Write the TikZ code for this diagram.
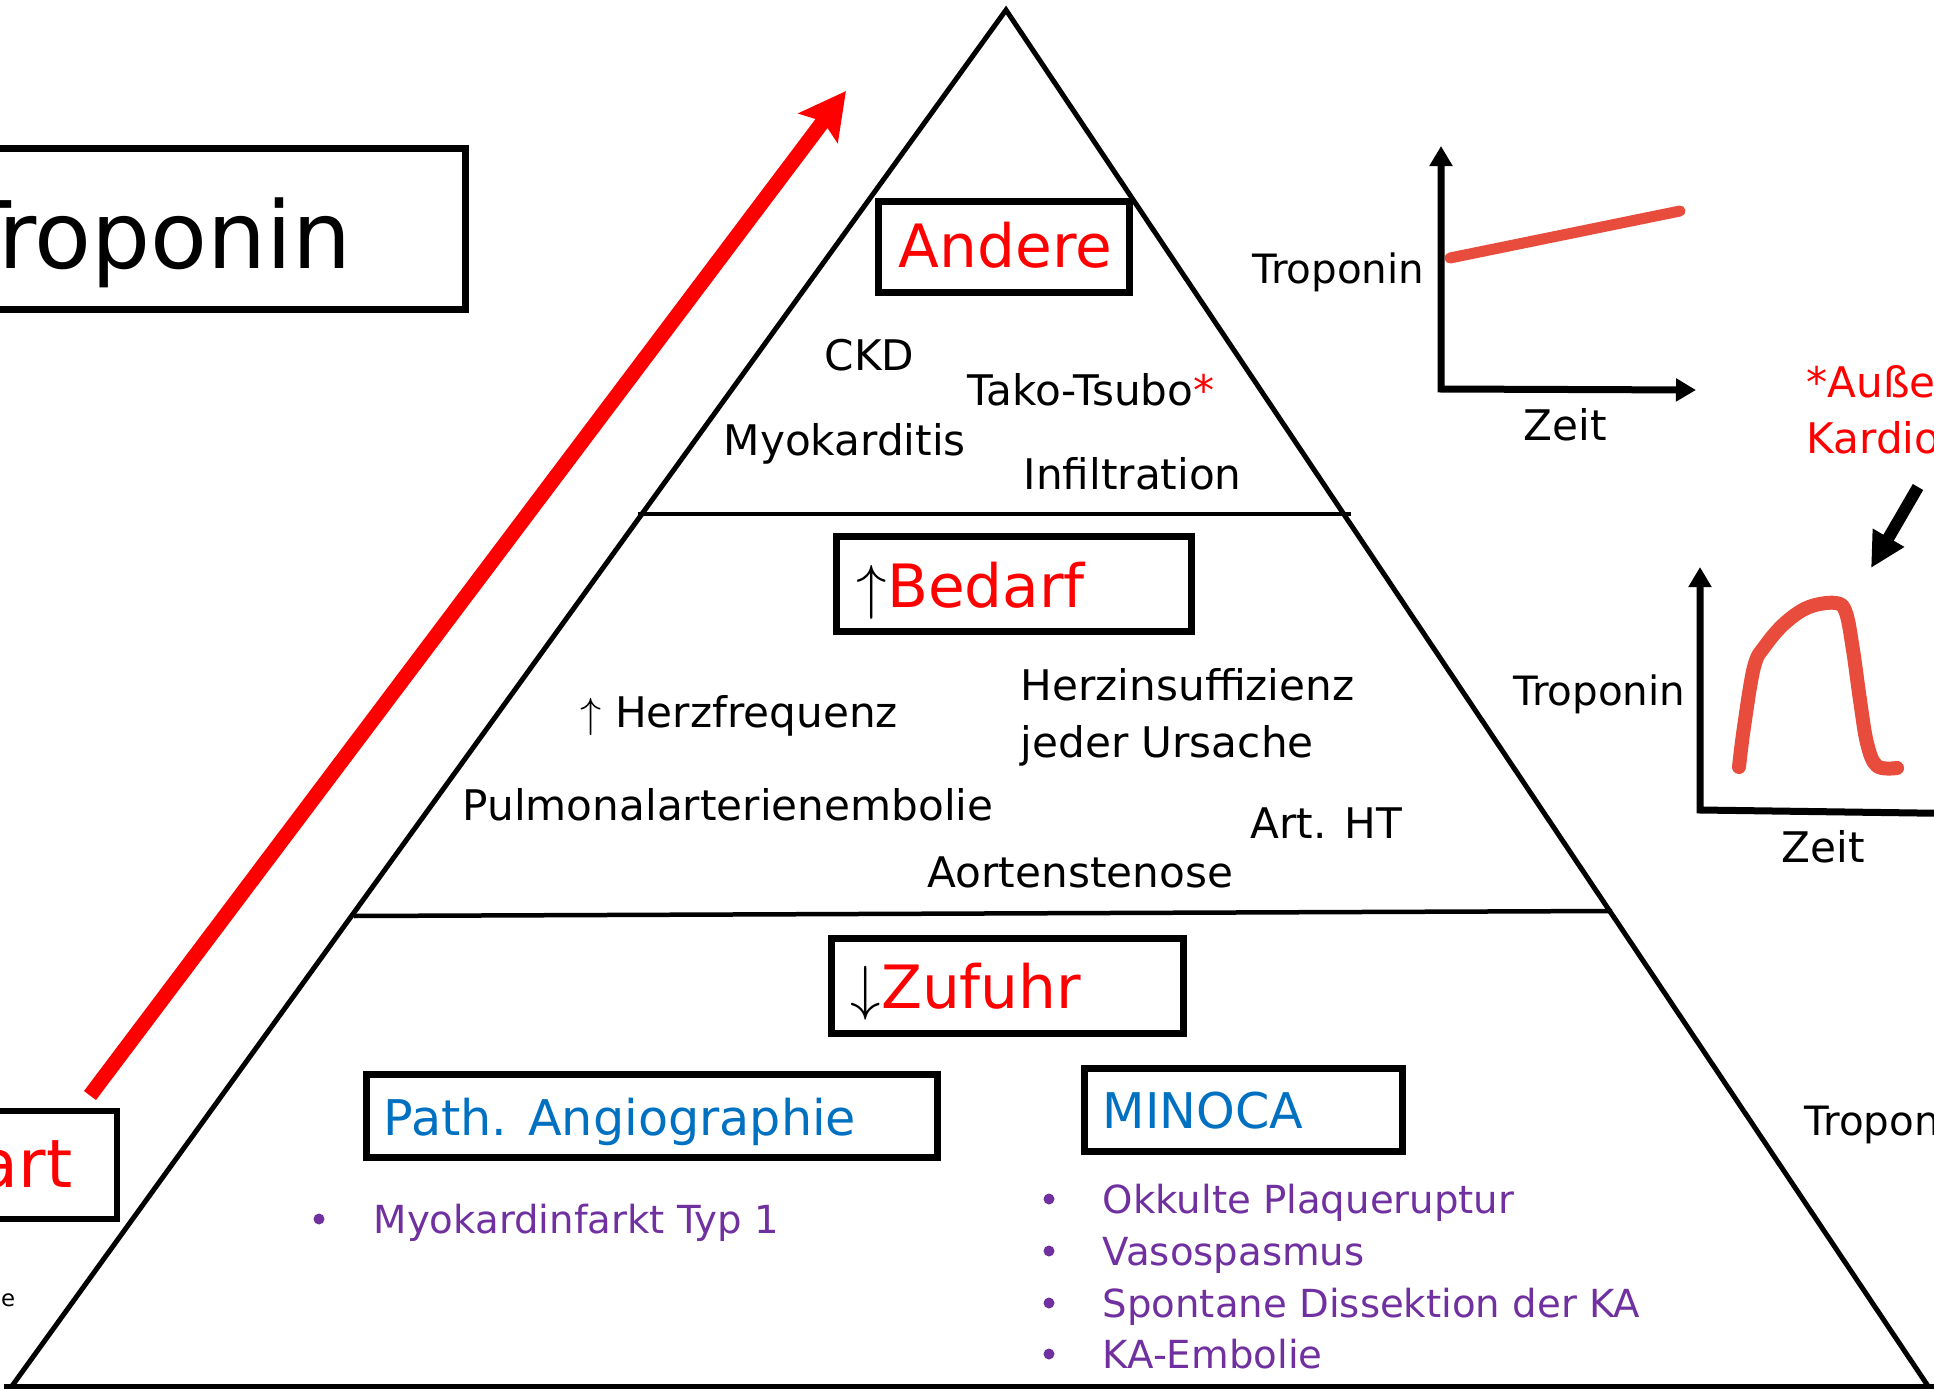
\documentclass[tikz,border=0pt]{standalone}
\usepackage{fontspec}
\setmainfont{DejaVu Sans}
\usetikzlibrary{arrows.meta,positioning}
\definecolor{angioblue}{RGB}{0,112,192}
\definecolor{listpurple}{RGB}{112,48,160}
\definecolor{curvered}{RGB}{232,76,61}
\newcommand{\fsz}[1]{\fontsize{#1}{#1}\selectfont}
\tikzset{
  tbox/.style={draw, line width=0.7mm, inner sep=0pt},
  lbl/.style={inner sep=0pt, anchor=base west, font=\fsz{12}},
  axisline/.style={line width=0.7mm, {Triangle[length=2mm,width=2.2mm]}-{Triangle[length=2mm,width=2.2mm]}},
  curveline/.style={curvered, line width=1.1mm, line cap=round, line join=round},
}

\begin{document}
\begin{tikzpicture}[x=0.1mm,y=-0.1mm]
\useasboundingbox (0,0) rectangle (1934,1390);
\clip (0,0) rectangle (1934,1390);

\coordinate (apex) at (1006,10);
\coordinate (bl) at (12,1386);
\coordinate (br) at (1928,1386);
\draw[line width=0.5mm] (bl) -- (apex) -- (br);
\draw[line width=0.5mm] (4,1386) -- (1934,1386);
\draw[line width=0.45mm] (638,514) -- (1351,514);
\draw[line width=0.45mm] (354,916) -- (1612,911);

% title and start
\node[tbox, minimum width=48.5mm, minimum height=16.1mm] (title) at (222.5,228.5) {};
\node[lbl, anchor=base east, font=\fsz{26.5}] (titletxt) at (352,268) {T{}roponin};
\node[tbox, line width=0.6mm, minimum width=26.7mm, minimum height=10.8mm] (start) at (-16.5,1164.5) {};
\node[lbl, anchor=base east, font=\fsz{19}, text=red] (starttxt) at (73,1187) {Start};
\node[lbl, anchor=base east, font=\fsz{6.5}] (smalltxt) at (16,1306) {ue};
\coordinate (peak) at (846,91);
\draw[red, line width=1.5mm, -{Stealth[length=4.6mm,width=4.8mm,inset=0.8mm]}] ([xshift=-3mm,yshift=1.2mm]start.north east) -- (peak);

% andere
\node[tbox, minimum width=25.1mm, minimum height=9.1mm] (andere) at (1004,247) {};
\node[lbl, font=\fsz{17}, text=red] (anderetxt) at (898,267) {Andere};
\node[lbl] (ckd) at (824,370) {CKD};
\node[lbl] (tako) at (967,405) {Tako-Tsubo\textcolor{red}{*}};
\node[lbl] (myo) at (723,455) {Myokarditis};
\node[lbl] (infil) at (1023,489) {Infiltration};

% bedarf
\node[tbox, minimum width=35.5mm, minimum height=9.5mm] (bedarf) at (1014,584) {};
\node[lbl, font=\fsz{17}] (bedarftxt) at (856,607) {$\uparrow$\textcolor{red}{Bedarf}};
\node[lbl] (hf) at (580,727) {$\uparrow$ Herzfrequenz};
\node[lbl] (hi) at (1020,700) {Herzinsuffizienz};
\node[lbl] (hi2) at (1020,757) {jeder Ursache};
\node[lbl] (lae) at (462,820) {Pulmonalarterienembolie};
\node[lbl] (aht) at (1250,838) {Art. HT};
\node[lbl] (as) at (927,887) {Aortenstenose};

% zufuhr
\node[tbox, minimum width=35.2mm, minimum height=9.5mm] (zufuhr) at (1007.5,986) {};
\node[lbl, font=\fsz{17}] (zufuhrtxt) at (850,1008) {$\downarrow$\textcolor{red}{Zufuhr}};
\node[tbox, minimum width=57.1mm, minimum height=8.3mm] (angio) at (652,1116) {};
\node[lbl, font=\fsz{14}, text=angioblue] (angiotxt) at (383,1135) {Path. Angiographie};
\node[tbox, minimum width=31.8mm, minimum height=8.3mm] (minoca) at (1243.5,1110) {};
\node[lbl, font=\fsz{14}, text=angioblue] (minocatxt) at (1102,1128) {MINOCA};
\fill[listpurple] (319,1219) circle (0.55mm);
\node[lbl, font=\fsz{11}, text=listpurple] (mi1) at (373,1233) {Myokardinfarkt Typ 1};
\foreach \txt/\yy [count=\i] in {Okkulte Plaqueruptur/1213, Vasospasmus/1265, Spontane Dissektion der KA/1317, KA-Embolie/1368} {
  \fill[listpurple] (1049,\yy-14) circle (0.55mm);
  \node[lbl, font=\fsz{11}, text=listpurple] (mino\i) at (1102,\yy) {\txt};
}

% graphs
\coordinate (o1) at (1441,389);
\draw[axisline] (1441,146) -- (o1) -- (1696,390);
\draw[curveline] (1450,258) -- (1680,211);
\node[lbl, anchor=base east, font=\fsz{11.5}] (trop1) at (1425,283) {Troponin};
\node[lbl] (zeit1) at (1523,440) {Zeit};

\node[lbl, text=red] (note1) at (1806,397) {*Außer};
\node[lbl, text=red] (note2) at (1806,453) {Kardiogener Schock};
\coordinate (k1) at (1918,487);
\coordinate (k2) at (1871,568);
\draw[line width=1.2mm, -{Triangle[length=3.5mm,width=3.4mm]}] (k1) -- (k2);

\coordinate (o2) at (1700,810);
\draw[axisline] (1700,567) -- (o2) -- (1990,814);
\draw[curveline, line width=1.4mm] plot[smooth, tension=0.6] coordinates {(1739,767) (1744,727) (1754,667) (1765,646) (1785,623) (1809,607) (1836,603) (1846,613) (1853,650) (1860,700) (1867,743) (1877,766) (1897,768)};
\node[lbl, anchor=base east, font=\fsz{11.5}] (trop2) at (1686,705) {Troponin};
\node[lbl] (zeit2) at (1781,862) {Zeit};

\node[lbl, font=\fsz{11.5}] (trop3) at (1804,1135) {Troponin};
\end{tikzpicture}
\end{document}
